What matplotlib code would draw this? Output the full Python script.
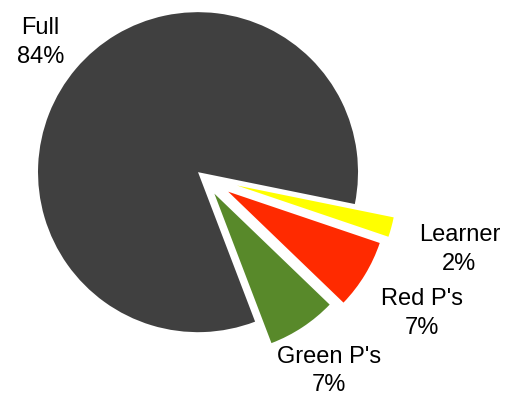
import numpy as np
import matplotlib
matplotlib.use("Agg")
import matplotlib.pyplot as plt

# licence type breakdown
labels = ["Full", "Green P's", "Red P's", "Learner"]
shares = [84, 7, 7, 2]
colors = ["#404040", "#58892a", "#ff2a00", "#ffff00"]
explode = [0.04, 0.13, 0.185, 0.22]
label_dist = [1.33, 1.43, 1.605, 1.66]  # from the pie centre, in radii

plt.rcParams['font.family'] = ['Liberation Sans', 'DejaVu Sans']

W, H = 515, 398
R = 160.0              # pie radius in pixels
cx, cy = 202.9, 176.3  # pie centre, pixels from top-left
nudge = 4.0 / R        # two-line labels sit a little high with va="center"

fig = plt.figure(figsize=(W / 100, H / 100), dpi=100)
ax = fig.add_axes([0, 0, 1, 1])

wedges, _ = ax.pie(shares, colors=colors, explode=explode,
                   startangle=-11.5, counterclock=True,
                   wedgeprops=dict(linewidth=0))

for w, lab, val, d in zip(wedges, labels, shares, label_dist):
    mid = np.deg2rad((w.theta1 + w.theta2) / 2)
    ax.text(d * np.cos(mid), d * np.sin(mid) - nudge, f"{lab}\n{val}%",
            ha="center", va="center", fontsize=17, linespacing=1.38)

ax.set_xlim(-cx / R, (W - cx) / R)
ax.set_ylim(-(H - cy) / R, cy / R)
ax.axis("off")

fig.savefig("out.png", dpi=100)
